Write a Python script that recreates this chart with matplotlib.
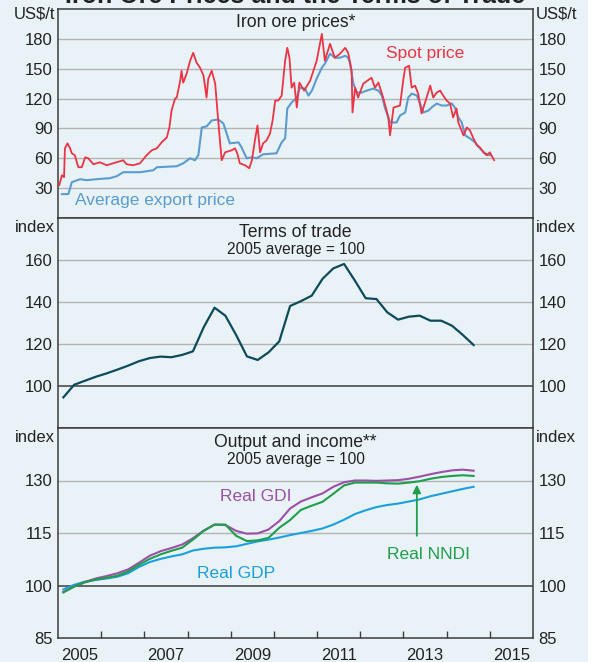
import matplotlib
matplotlib.use('Agg')
from matplotlib import pyplot as plt
from matplotlib.patches import Rectangle

plt.rcParams['font.family'] = ['Liberation Sans', 'DejaVu Sans']

# Iron ore spot price (US$/t)
spot_t = [2005.03, 2005.09, 2005.14, 2005.16, 2005.22, 2005.28, 2005.32, 2005.39, 2005.47, 2005.55,
          2005.63, 2005.70, 2005.82, 2005.97, 2006.13, 2006.28, 2006.51, 2006.59, 2006.74, 2006.90,
          2007.05, 2007.17, 2007.29, 2007.40, 2007.52, 2007.58, 2007.63, 2007.71, 2007.75, 2007.83,
          2007.86, 2007.90, 2007.98, 2008.06, 2008.13, 2008.21, 2008.29, 2008.37, 2008.44, 2008.48,
          2008.56, 2008.64, 2008.71, 2008.79, 2008.87, 2009.02, 2009.10, 2009.15, 2009.21, 2009.33,
          2009.43, 2009.49, 2009.56, 2009.62, 2009.68, 2009.75, 2009.83, 2009.91, 2009.97, 2010.03,
          2010.10, 2010.18, 2010.26, 2010.31, 2010.36, 2010.41, 2010.47, 2010.53, 2010.59, 2010.70,
          2010.84, 2010.99, 2011.11, 2011.18, 2011.30, 2011.41, 2011.53, 2011.65, 2011.72, 2011.80,
          2011.82, 2011.88, 2011.95, 2012.07, 2012.26, 2012.34, 2012.42, 2012.53, 2012.65, 2012.69,
          2012.77, 2012.92, 2013.00, 2013.04, 2013.13, 2013.19, 2013.27, 2013.34, 2013.42, 2013.50,
          2013.62, 2013.69, 2013.77, 2013.85, 2013.92, 2014.00, 2014.08, 2014.15, 2014.23, 2014.27,
          2014.39, 2014.47, 2014.54, 2014.62, 2014.70, 2014.77, 2014.85, 2014.93, 2015.00, 2015.10]
spot_v = [33, 43, 41, 70, 75, 70, 65, 63, 51, 51,
          61, 60, 54, 56, 53, 55, 58, 54, 53, 55,
          63, 68, 70, 76, 81, 91, 108, 120, 121, 138,
          148, 136, 145, 158, 166, 156, 151, 143, 121, 140,
          148, 135, 98, 58, 66, 68, 70, 65, 55, 53,
          50, 58, 78, 93, 66, 75, 78, 85, 98, 118,
          118, 123, 158, 171, 161, 131, 136, 111, 136, 128,
          138, 158, 185, 158, 175, 161, 165, 171, 166, 148,
          106, 131, 121, 135, 141, 131, 136, 121, 101, 83,
          111, 113, 140, 151, 153, 131, 133, 125, 105, 116,
          133, 121, 126, 128, 123, 118, 115, 101, 110, 96,
          83, 91, 88, 80, 73, 71, 66, 63, 66, 58]

# Average export price (US$/t)
avg_t = [2005.09, 2005.24, 2005.32, 2005.51, 2005.66, 2005.90, 2006.20, 2006.36, 2006.51, 2006.90,
         2007.21, 2007.29, 2007.75, 2007.90, 2008.06, 2008.17, 2008.25, 2008.33, 2008.44, 2008.56,
         2008.71, 2008.83, 2008.98, 2009.18, 2009.25, 2009.37, 2009.49, 2009.60, 2009.75, 2010.06,
         2010.18, 2010.26, 2010.31, 2010.41, 2010.53, 2010.60, 2010.72, 2010.80, 2010.88, 2010.99,
         2011.11, 2011.18, 2011.30, 2011.41, 2011.53, 2011.65, 2011.72, 2011.76, 2011.84, 2011.92,
         2012.03, 2012.15, 2012.30, 2012.42, 2012.50, 2012.57, 2012.69, 2012.84, 2012.92, 2013.04,
         2013.11, 2013.19, 2013.31, 2013.42, 2013.46, 2013.58, 2013.65, 2013.77, 2013.89, 2014.00,
         2014.12, 2014.19, 2014.27, 2014.35, 2014.43, 2014.54, 2014.66, 2014.77, 2014.89, 2015.00]
avg_v = [24, 24, 36, 39, 38, 39, 40, 42, 46, 46,
         48, 51, 52, 55, 60, 58, 63, 91, 92, 98,
         99, 95, 75, 76, 71, 60, 61, 60, 64, 65,
         76, 80, 110, 116, 121, 131, 130, 123, 128, 140,
         151, 155, 165, 161, 161, 163, 161, 156, 135, 126,
         126, 128, 130, 128, 123, 111, 96, 96, 103, 106,
         121, 125, 123, 111, 106, 108, 111, 115, 113, 113,
         115, 111, 101, 96, 83, 80, 76, 70, 65, 63]

# Quarterly series, Mar 2005 to Sep 2014 (2005 average = 100)
quarters = [2005.125 + 0.25 * i for i in range(39)]
tot = [94.6, 100.6, 102.5, 104.4, 106.0, 107.8, 109.7, 111.8, 113.3, 114.0,
       113.7, 114.8, 116.5, 128.0, 137.3, 133.5, 124.3, 114.1, 112.4, 116.0,
       121.3, 138.1, 140.4, 143.0, 151.0, 156.0, 158.1, 150.2, 141.8, 141.4,
       135.1, 131.6, 133.0, 133.5, 131.1, 131.1, 128.7, 124.3, 119.5]
gdi = [98.2, 99.7, 101.0, 102.0, 102.7, 103.5, 104.6, 106.5, 108.5, 109.8,
       110.7, 111.7, 113.5, 115.7, 117.4, 117.3, 115.6, 114.8, 114.9, 116.0,
       118.4, 122.0, 124.0, 125.2, 126.3, 128.2, 129.5, 130.0, 130.0, 129.9,
       130.0, 130.1, 130.5, 131.1, 131.8, 132.4, 132.9, 133.1, 132.8]
nndi = [98.0, 99.7, 100.9, 101.7, 102.2, 102.8, 104.0, 105.9, 107.6, 108.9,
        109.9, 110.8, 113.1, 115.6, 117.4, 117.4, 114.2, 112.7, 112.9, 113.6,
        116.5, 118.7, 121.6, 122.8, 123.9, 126.2, 128.6, 129.4, 129.4, 129.4,
        129.2, 129.1, 129.4, 129.8, 130.5, 131.0, 131.3, 131.5, 131.3]
gdp = [98.9, 100.2, 101.1, 101.6, 102.0, 102.5, 103.5, 105.3, 106.7, 107.6,
       108.3, 108.9, 110.0, 110.5, 110.8, 110.9, 111.2, 111.9, 112.6, 113.1,
       113.7, 114.4, 115.0, 115.6, 116.3, 117.4, 118.8, 120.4, 121.5, 122.4,
       123.0, 123.4, 124.0, 124.6, 125.5, 126.2, 126.9, 127.6, 128.2]

year_labels = ['2005', '2007', '2009', '2011', '2013', '2015']

BG = '#e9f3f7'
GRID = '#b3b3b3'
FRAME = '#3c3c3c'
TXT = '#222222'
TICK_FS = 12
TITLE_FS = 12.7
SUB_FS = 11.2
LABEL_FS = 12.5

fig = plt.figure(figsize=(5.93, 6.62), dpi=100, facecolor=BG)
# white strip on the far right edge of the scan
fig.add_artist(Rectangle((588 / 593, 0), 5 / 593, 1, transform=fig.transFigure,
                         facecolor='white', edgecolor='none', zorder=-1))

left, width = 58 / 593, 475 / 593
edges = [9, 218, 428, 638]  # pixel rows of panel borders
axes = []
for i in range(3):
    b = 1 - edges[i + 1] / 662
    h = (edges[i + 1] - edges[i]) / 662
    ax = fig.add_axes([left, b, width, h])
    ax.set_facecolor(BG)
    ax.set_xlim(2005, 2016)
    for s in ax.spines.values():
        s.set_color(FRAME)
        s.set_linewidth(1.1)
    ax.tick_params(axis='y', length=0, labelsize=TICK_FS, labelcolor=TXT,
                   labelleft=True, labelright=True, pad=4)
    ax.tick_params(axis='x', which='both', bottom=False, labelbottom=False)
    axes.append(ax)

ax1, ax2, ax3 = axes

# --- top panel: iron ore prices
ax1.set_ylim(0, 210)
ax1.set_yticks([30, 60, 90, 120, 150, 180])
for v in [30, 60, 90, 120, 150, 180]:
    ax1.axhline(v, color=GRID, lw=1.0, zorder=1)
ax1.plot(avg_t, avg_v, color='#5b9bd0', lw=1.5, zorder=3)
ax1.plot(spot_t, spot_v, color='#ee3345', lw=1.3, zorder=4)
ax1.text(0.5, 0.935, 'Iron ore prices*', transform=ax1.transAxes, ha='center', va='center',
         fontsize=TITLE_FS, color=TXT)
ax1.text(2013.5, 165, 'Spot price', ha='center', va='center', fontsize=LABEL_FS, color='#ee3345')
ax1.text(2007.25, 18, 'Average export price', ha='center', va='center', fontsize=LABEL_FS,
         color='#5b9bd0')

# --- middle panel: terms of trade
ax2.set_ylim(80, 180)
ax2.set_yticks([100, 120, 140, 160])
for v in [120, 140, 160]:
    ax2.axhline(v, color=GRID, lw=1.0, zorder=1)
ax2.axhline(100, color=FRAME, lw=1.1, zorder=2)
ax2.plot(quarters, tot, color='#0d4a5c', lw=1.6, zorder=3)
ax2.text(0.5, 0.933, 'Terms of trade', transform=ax2.transAxes, ha='center', va='center',
         fontsize=TITLE_FS, color=TXT)
ax2.text(0.5, 0.852, '2005 average = 100', transform=ax2.transAxes, ha='center', va='center',
         fontsize=SUB_FS, color=TXT)

# --- bottom panel: output and income
ax3.set_ylim(85, 145)
ax3.set_yticks([85, 100, 115, 130])
for v in [115, 130]:
    ax3.axhline(v, color=GRID, lw=1.0, zorder=1)
ax3.axhline(100, color=FRAME, lw=1.1, zorder=2)
ax3.plot(quarters, gdp, color='#1a9fe0', lw=1.5, zorder=3)
ax3.plot(quarters, gdi, color='#9b4fa8', lw=1.5, zorder=3)
ax3.plot(quarters, nndi, color='#1f9e4c', lw=1.5, zorder=4)
ax3.text(0.5, 0.933, 'Output and income**', transform=ax3.transAxes, ha='center', va='center',
         fontsize=TITLE_FS, color=TXT)
ax3.text(0.5, 0.852, '2005 average = 100', transform=ax3.transAxes, ha='center', va='center',
         fontsize=SUB_FS, color=TXT)
ax3.text(2009.59, 125.4, 'Real GDI', ha='center', va='center', fontsize=LABEL_FS, color='#9b4fa8')
ax3.text(2009.12, 103.4, 'Real GDP', ha='center', va='center', fontsize=LABEL_FS, color='#1a9fe0')
ax3.text(2013.57, 108.9, 'Real NNDI', ha='center', va='center', fontsize=LABEL_FS, color='#1f9e4c')
ax3.annotate('', xy=(2013.31, 129.6), xytext=(2013.31, 113.4),
             arrowprops=dict(arrowstyle='-|>', color='#1f9e4c', lw=1.3, mutation_scale=12))

# x axis: ticks at year boundaries, labels centred in odd years
ax3.set_xticks(range(2006, 2016))
ax3.set_xticks([2005.5 + 2 * i for i in range(6)], minor=True)
ax3.set_xticklabels(year_labels, minor=True)
ax3.tick_params(axis='x', which='major', bottom=True, direction='in', length=5,
                width=1.0, color=FRAME, labelbottom=False)
ax3.tick_params(axis='x', which='minor', bottom=True, length=0, labelbottom=True,
                labelsize=TICK_FS, labelcolor=TXT, pad=7.5)

# units
for ax, unit, y in [(ax1, 'US$/t', 14), (ax2, 'index', 227), (ax3, 'index', 437)]:
    fig.text(55 / 593, 1 - y / 662, unit, ha='right', va='center', fontsize=TICK_FS, color=TXT)
    fig.text(536 / 593, 1 - y / 662, unit, ha='left', va='center', fontsize=TICK_FS, color=TXT)

# chart title, cut off by the top of the scan
fig.text(295 / 593, 1 - 3 / 662, 'Iron Ore Prices and the Terms of Trade', ha='center',
         va='baseline', fontsize=18, fontweight='bold', color=TXT)

plt.savefig('out.png', dpi=100, facecolor=BG)
plt.close()
